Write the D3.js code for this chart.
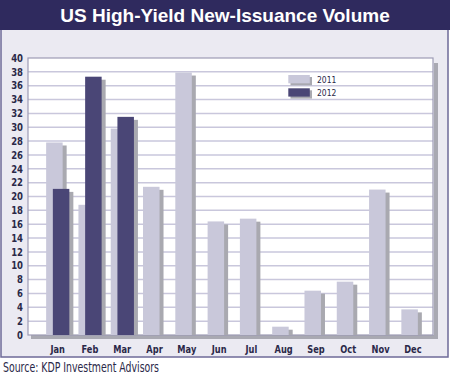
<!DOCTYPE html>
<html>
<head>
<meta charset="utf-8">
<script src="https://cdn.jsdelivr.net/npm/d3@7/dist/d3.min.js"></script>
<style>
  body { margin: 0; background: #fff; }
  text { font-family: "DejaVu Sans", sans-serif; }
</style>
</head>
<body>
<div id="chart"></div>
<script>
var months = ["Jan","Feb","Mar","Apr","May","Jun","Jul","Aug","Sep","Oct","Nov","Dec"];
var vol2011 = [27.8, 18.8, 29.8, 21.4, 37.9, 16.4, 16.8, 1.2, 6.4, 7.7, 21.0, 3.7];
var vol2012 = [21.1, 37.3, 31.5];
var yTicks = d3.range(0, 42, 2);
var title = "US High-Yield New-Issuance Volume";
var source = "Source: KDP Investment Advisors";

var w = 450, h = 374;
var svg = d3.select("#chart").append("svg")
    .attr("width", w).attr("height", h);

// squeeze a text horizontally (narrow look of the original font)
function narrow(sel, k) {
    sel.each(function() {
        var len = this.getComputedTextLength();
        d3.select(this).attr("textLength", len * k).attr("lengthAdjust", "spacingAndGlyphs");
    });
}

// panel + title bar
svg.append("rect").attr("x", 1).attr("y", 0).attr("width", 447).attr("height", 357)
    .attr("fill", "#ebeaf2").attr("stroke", "#6e6a98").attr("stroke-width", 1.5);
svg.append("rect").attr("x", 0).attr("y", 0).attr("width", w).attr("height", 30)
    .attr("fill", "#2f2a5e");
svg.append("text").attr("x", 225).attr("y", 22)
    .attr("text-anchor", "middle").attr("fill", "#fff")
    .style("font-family", "'Liberation Sans', Arial, sans-serif")
    .style("font-weight", "bold").style("font-size", "19px")
    .text(title);

var pLeft = 28, pRight = 433, pTop = 58, pBottom = 335;

var y = d3.scaleLinear().domain([0, 40]).range([pBottom, pTop]);
var x = d3.scaleBand().domain(months).range([41.5, 429]).padding(0);

// shadows of plot box
svg.append("rect").attr("x", pRight + 1).attr("y", 63).attr("width", 4).attr("height", pBottom + 4 - 63)
    .attr("fill", "#a9a9b2");
svg.append("rect").attr("x", 31).attr("y", pBottom).attr("width", pRight + 5 - 31).attr("height", 4)
    .attr("fill", "#a9a9b2");

svg.append("rect").attr("x", pLeft).attr("y", pTop).attr("width", pRight - pLeft).attr("height", pBottom - pTop)
    .attr("fill", "#fff");

// grid
svg.append("g").selectAll("line").data(yTicks.slice(1, -1)).enter().append("line")
    .attr("x1", pLeft).attr("x2", pRight)
    .attr("y1", function(d) { return y(d); }).attr("y2", function(d) { return y(d); })
    .attr("stroke", "#c9c7dc").attr("stroke-width", 1.5);

svg.append("rect").attr("x", pLeft).attr("y", pTop).attr("width", pRight - pLeft).attr("height", pBottom - pTop)
    .attr("fill", "none").attr("stroke", "#9d9bb5").attr("stroke-width", 1.2);

var bw = 16.5;
function drawBars(vals, off, fill) {
    var g = svg.append("g");
    vals.forEach(function(v, i) {
        var bx = x(months[i]) + x.bandwidth() / 2 + off;
        g.append("rect").attr("x", bx + 4).attr("y", y(v) + 3)
            .attr("width", bw).attr("height", pBottom - y(v) - 3)
            .attr("fill", "#a9a9b0");
        g.append("rect").attr("x", bx).attr("y", y(v))
            .attr("width", bw).attr("height", pBottom - y(v))
            .attr("fill", fill);
    });
}
drawBars(vol2011, -11.5, "#c9c8da");
drawBars(vol2012, -4.8, "#4a4676");

// y axis
var yAxis = d3.axisLeft(y).tickValues(yTicks).tickSize(0).tickPadding(5);
var gy = svg.append("g").attr("transform", "translate(" + pLeft + ",0)").call(yAxis);
gy.select(".domain").remove();
gy.selectAll("text").attr("fill", "#2a2848").attr("font-family", null)
    .style("font-size", "10px").style("font-weight", "bold");
narrow(gy.selectAll("text"), 0.85);

// x axis
var xAxis = d3.axisBottom(x).tickSize(0).tickPadding(8);
var gx = svg.append("g").attr("transform", "translate(0," + (pBottom + 2) + ")").call(xAxis);
gx.select(".domain").remove();
gx.selectAll("text").attr("fill", "#2a2848").attr("font-family", null)
    .style("font-size", "11px").style("font-weight", "bold");
narrow(gx.selectAll("text"), 0.75);

// legend
var legend = [{label: "2011", fill: "#c9c8da"}, {label: "2012", fill: "#4a4676"}];
legend.forEach(function(d, i) {
    var ly = 75 + i * 13.3;
    svg.append("rect").attr("x", 290.5).attr("y", ly + 2).attr("width", 21.5).attr("height", 8.3).attr("fill", "#a9a9b0");
    svg.append("rect").attr("x", 288.3).attr("y", ly).attr("width", 21.5).attr("height", 8.3).attr("fill", d.fill);
    var t = svg.append("text").attr("x", 317).attr("y", ly + 8).attr("fill", "#2a2848")
        .style("font-size", "9.5px").text(d.label);
    narrow(t, 0.8);
});

var src = svg.append("text").attr("x", 3).attr("y", 371.5).attr("fill", "#2a2848")
    .style("font-size", "14px").text(source);
src.attr("textLength", 156).attr("lengthAdjust", "spacingAndGlyphs");
</script>
</body>
</html>
